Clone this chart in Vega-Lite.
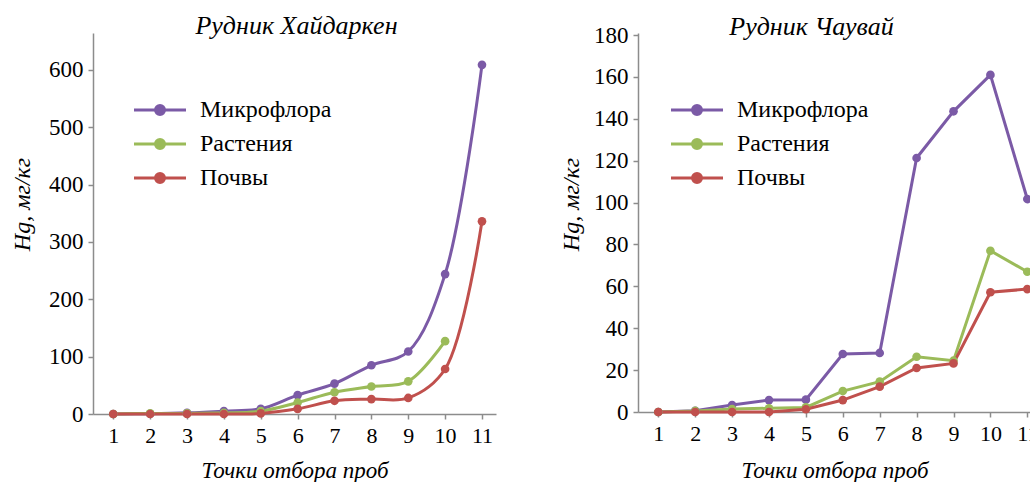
{
  "$schema": "https://vega.github.io/schema/vega-lite/v6.json",
  "background": "white",
  "padding": {"left": 10, "top": 13, "right": 0, "bottom": 0},
  "config": {
    "view": {"stroke": null},
    "font": "Liberation Serif",
    "axis": {
      "domainColor": "#8c8c8c", "tickColor": "#8c8c8c", "domainWidth": 1.5, "tickWidth": 1.5, "tickSize": 5,
      "labelFont": "Liberation Serif", "labelFontSize": 22, "labelColor": "#000", "grid": false,
      "titleFont": "Liberation Serif", "titleFontStyle": "italic", "titleFontWeight": "normal", "titleFontSize": 24, "titleColor": "#000"
    },
    "legend": {
      "orient": "none", "title": null,
      "symbolType": "M-2.6,0L2.6,0M-0.45,0A0.45,0.45,0,1,1,0.45,0A0.45,0.45,0,1,1,-0.45,0Z",
      "symbolSize": 400, "symbolStrokeWidth": 3, "symbolOpacity": 1,
      "labelFont": "Liberation Serif", "labelFontSize": 24, "labelColor": "#000", "labelOffset": 28, "rowPadding": 10
    },
    "title": {"font": "Liberation Serif", "fontStyle": "italic", "fontWeight": "normal", "fontSize": 26, "color": "#000"}
  },
  "datasets": {
    "d": [
      {"mine": "Хайдаркен", "series": "Микрофлора", "point": 1, "value": 0},
      {"mine": "Хайдаркен", "series": "Микрофлора", "point": 2, "value": 0.5},
      {"mine": "Хайдаркен", "series": "Микрофлора", "point": 3, "value": 2},
      {"mine": "Хайдаркен", "series": "Микрофлора", "point": 4, "value": 5},
      {"mine": "Хайдаркен", "series": "Микрофлора", "point": 5, "value": 9},
      {"mine": "Хайдаркен", "series": "Микрофлора", "point": 6, "value": 33},
      {"mine": "Хайдаркен", "series": "Микрофлора", "point": 7, "value": 53},
      {"mine": "Хайдаркен", "series": "Микрофлора", "point": 8, "value": 85},
      {"mine": "Хайдаркен", "series": "Микрофлора", "point": 9, "value": 109},
      {"mine": "Хайдаркен", "series": "Микрофлора", "point": 10, "value": 244},
      {"mine": "Хайдаркен", "series": "Микрофлора", "point": 11, "value": 609},
      {"mine": "Хайдаркен", "series": "Растения", "point": 1, "value": 0},
      {"mine": "Хайдаркен", "series": "Растения", "point": 2, "value": 1},
      {"mine": "Хайдаркен", "series": "Растения", "point": 3, "value": 1},
      {"mine": "Хайдаркен", "series": "Растения", "point": 4, "value": 2},
      {"mine": "Хайдаркен", "series": "Растения", "point": 5, "value": 5},
      {"mine": "Хайдаркен", "series": "Растения", "point": 6, "value": 20},
      {"mine": "Хайдаркен", "series": "Растения", "point": 7, "value": 38},
      {"mine": "Хайдаркен", "series": "Растения", "point": 8, "value": 48},
      {"mine": "Хайдаркен", "series": "Растения", "point": 9, "value": 57},
      {"mine": "Хайдаркен", "series": "Растения", "point": 10, "value": 127},
      {"mine": "Хайдаркен", "series": "Почвы", "point": 1, "value": 0},
      {"mine": "Хайдаркен", "series": "Почвы", "point": 2, "value": 0},
      {"mine": "Хайдаркен", "series": "Почвы", "point": 3, "value": 0},
      {"mine": "Хайдаркен", "series": "Почвы", "point": 4, "value": 0},
      {"mine": "Хайдаркен", "series": "Почвы", "point": 5, "value": 1},
      {"mine": "Хайдаркен", "series": "Почвы", "point": 6, "value": 9},
      {"mine": "Хайдаркен", "series": "Почвы", "point": 7, "value": 23},
      {"mine": "Хайдаркен", "series": "Почвы", "point": 8, "value": 26},
      {"mine": "Хайдаркен", "series": "Почвы", "point": 9, "value": 28},
      {"mine": "Хайдаркен", "series": "Почвы", "point": 10, "value": 78.5},
      {"mine": "Хайдаркен", "series": "Почвы", "point": 11, "value": 336},
      {"mine": "Чаувай", "series": "Микрофлора", "point": 1, "value": 0},
      {"mine": "Чаувай", "series": "Микрофлора", "point": 2, "value": 0.6},
      {"mine": "Чаувай", "series": "Микрофлора", "point": 3, "value": 3.3},
      {"mine": "Чаувай", "series": "Микрофлора", "point": 4, "value": 5.7},
      {"mine": "Чаувай", "series": "Микрофлора", "point": 5, "value": 5.9},
      {"mine": "Чаувай", "series": "Микрофлора", "point": 6, "value": 27.7},
      {"mine": "Чаувай", "series": "Микрофлора", "point": 7, "value": 28.2},
      {"mine": "Чаувай", "series": "Микрофлора", "point": 8, "value": 121.3},
      {"mine": "Чаувай", "series": "Микрофлора", "point": 9, "value": 143.6},
      {"mine": "Чаувай", "series": "Микрофлора", "point": 10, "value": 161},
      {"mine": "Чаувай", "series": "Микрофлора", "point": 11, "value": 101.7},
      {"mine": "Чаувай", "series": "Растения", "point": 1, "value": 0},
      {"mine": "Чаувай", "series": "Растения", "point": 2, "value": 0.5},
      {"mine": "Чаувай", "series": "Растения", "point": 3, "value": 1.4},
      {"mine": "Чаувай", "series": "Растения", "point": 4, "value": 1.8},
      {"mine": "Чаувай", "series": "Растения", "point": 5, "value": 2.2},
      {"mine": "Чаувай", "series": "Растения", "point": 6, "value": 10},
      {"mine": "Чаувай", "series": "Растения", "point": 7, "value": 14.5},
      {"mine": "Чаувай", "series": "Растения", "point": 8, "value": 26.4},
      {"mine": "Чаувай", "series": "Растения", "point": 9, "value": 24.5},
      {"mine": "Чаувай", "series": "Растения", "point": 10, "value": 77},
      {"mine": "Чаувай", "series": "Растения", "point": 11, "value": 67},
      {"mine": "Чаувай", "series": "Почвы", "point": 1, "value": 0},
      {"mine": "Чаувай", "series": "Почвы", "point": 2, "value": 0},
      {"mine": "Чаувай", "series": "Почвы", "point": 3, "value": 0},
      {"mine": "Чаувай", "series": "Почвы", "point": 4, "value": 0},
      {"mine": "Чаувай", "series": "Почвы", "point": 5, "value": 1.3},
      {"mine": "Чаувай", "series": "Почвы", "point": 6, "value": 5.7},
      {"mine": "Чаувай", "series": "Почвы", "point": 7, "value": 12.1},
      {"mine": "Чаувай", "series": "Почвы", "point": 8, "value": 21},
      {"mine": "Чаувай", "series": "Почвы", "point": 9, "value": 23.2},
      {"mine": "Чаувай", "series": "Почвы", "point": 10, "value": 57.2},
      {"mine": "Чаувай", "series": "Почвы", "point": 11, "value": 58.7}
    ]
  },
  "spacing": 142,
  "bounds": "flush",
  "resolve": {"scale": {"x": "independent", "y": "independent", "stroke": "independent", "fill": "independent"}, "legend": {"stroke": "independent", "fill": "independent"}},
  "hconcat": [
    {
      "width": 403,
      "height": 381,
      "title": {"text": "Рудник Хайдаркен", "frame": "group", "anchor": "middle", "dx": 2, "offset": -6},
      "data": {"name": "d"},
      "transform": [{"filter": "datum.mine == 'Хайдаркен'"}],
      "encoding": {
        "x": {"field": "point", "type": "quantitative",
          "scale": {"domain": [0.45, 11.38], "nice": false, "zero": false},
          "axis": {"values": [1, 2, 3, 4, 5, 6, 7, 8, 9, 10, 11], "title": "Точки отбора проб", "labelPadding": 6, "titleY": 63, "titleBaseline": "alphabetic", "titleFontSize": 23}},
        "y": {"field": "value", "type": "quantitative",
          "scale": {"domain": [0, 664.5], "nice": false},
          "axis": {"values": [0, 100, 200, 300, 400, 500, 600], "title": "Hg, мг/кг", "labelPadding": 5, "labelFontSize": 23, "titleX": -64, "titleY": 171, "titleBaseline": "alphabetic", "titleAlign": "center", "titleAngle": -90}}
      },
      "layer": [
        {"mark": {"type": "line", "strokeWidth": 3, "interpolate": "catmull-rom"},
         "encoding": {"stroke": {"field": "series", "type": "nominal",
           "scale": {"domain": ["Микрофлора", "Растения", "Почвы"], "range": ["#7b5aa6", "#9bbb59", "#c0504d"]},
           "legend": {"legendX": 55, "legendY": 65}}}},
        {"mark": {"type": "point", "filled": true, "size": 75, "opacity": 1},
         "encoding": {"fill": {"field": "series", "type": "nominal",
           "scale": {"domain": ["Микрофлора", "Растения", "Почвы"], "range": ["#7b5aa6", "#9bbb59", "#c0504d"]},
           "legend": {"legendX": 55, "legendY": 65}}}}
      ]
    },
    {
      "width": 393,
      "height": 379,
      "title": {"text": "Рудник Чаувай", "frame": "group", "anchor": "middle", "dx": -23, "offset": -16},
      "data": {"name": "d"},
      "transform": [{"filter": "datum.mine == 'Чаувай'"}],
      "encoding": {
        "x": {"field": "point", "type": "quantitative",
          "scale": {"domain": [0.45, 11.1], "nice": false, "zero": false},
          "axis": {"values": [1, 2, 3, 4, 5, 6, 7, 8, 9, 10, 11], "title": "Точки отбора проб", "labelPadding": 6, "titleY": 65, "titleBaseline": "alphabetic", "titleFontSize": 23}},
        "y": {"field": "value", "type": "quantitative",
          "scale": {"domain": [0, 181], "nice": false},
          "axis": {"values": [0, 20, 40, 60, 80, 100, 120, 140, 160, 180], "title": "Hg, мг/кг", "labelPadding": 5, "labelFontSize": 23, "titleX": -60, "titleY": 171, "titleBaseline": "alphabetic", "titleAlign": "center", "titleAngle": -90}}
      },
      "layer": [
        {"mark": {"type": "line", "strokeWidth": 3, "interpolate": "linear"},
         "encoding": {"stroke": {"field": "series", "type": "nominal",
           "scale": {"domain": ["Микрофлора", "Растения", "Почвы"], "range": ["#7b5aa6", "#9bbb59", "#c0504d"]},
           "legend": {"legendX": 47, "legendY": 65}}}},
        {"mark": {"type": "point", "filled": true, "size": 75, "opacity": 1},
         "encoding": {"fill": {"field": "series", "type": "nominal",
           "scale": {"domain": ["Микрофлора", "Растения", "Почвы"], "range": ["#7b5aa6", "#9bbb59", "#c0504d"]},
           "legend": {"legendX": 47, "legendY": 65}}}}
      ]
    }
  ]
}
